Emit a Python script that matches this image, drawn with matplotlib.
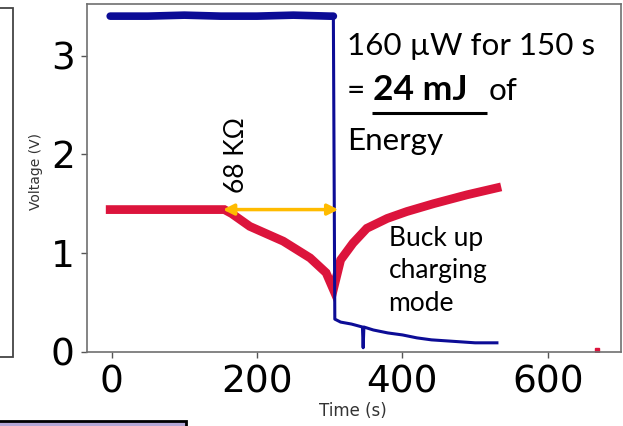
import matplotlib
matplotlib.use("Agg")
import matplotlib.pyplot as plt
from matplotlib.patches import Rectangle

# Supercapacitor voltage (blue) and storage-node voltage (red) over time
blue_t = [-2, 50, 100, 150, 200, 250, 300, 305, 307, 315, 330, 345, 346, 347,
          360, 380, 400, 420, 440, 460, 480, 500, 530]
blue_v = [3.40, 3.40, 3.41, 3.40, 3.40, 3.41, 3.40, 3.40, 0.33, 0.30, 0.28, 0.25,
          0.04, 0.25, 0.22, 0.19, 0.17, 0.14, 0.12, 0.11, 0.10, 0.09, 0.09]

red_t = [-2, 50, 100, 155, 165, 190, 236, 273, 295, 305, 315, 332, 351, 379,
         406, 443, 489, 530]
red_v = [1.44, 1.44, 1.44, 1.44, 1.40, 1.27, 1.12, 0.95, 0.80, 0.63, 0.93, 1.10,
         1.25, 1.35, 1.42, 1.50, 1.59, 1.66]

red_dot_t = [668]
red_dot_v = [0.02]

# Discharge window through the 68 kOhm load
load_start, load_end, load_level = 153, 312, 1.44

x_ticks = [0, 200, 400, 600]
y_ticks = [0, 1, 2, 3]

W, H = 623, 426
fig = plt.figure(figsize=(W / 100, H / 100), dpi=100)
ax = fig.add_axes([87.3 / W, 1 - 351.7 / H, (620.5 - 87.3) / W, (351.7 - 4) / H])

BLUE = "#0c0c96"
RED = "#dc143c"
GOLD = "#ffbb00"
ANN_FONT = ["Lato", "DejaVu Sans"]

ax.plot(blue_t, blue_v, color=BLUE, lw=2.2, zorder=3)
ax.plot(blue_t[:8], blue_v[:8], color=BLUE, lw=5.5, solid_capstyle="round", zorder=3)
ax.plot(red_t, red_v, color=RED, lw=6.3, solid_joinstyle="miter", zorder=2)
ax.plot(red_dot_t, red_dot_v, "s", color=RED, ms=3, zorder=2)

ax.annotate("", xy=(load_end, load_level), xytext=(load_start, load_level),
            arrowprops=dict(arrowstyle="<|-|>", color=GOLD, lw=2.5,
                            mutation_scale=16, shrinkA=0, shrinkB=0), zorder=4)
ax.text(172, 1.99, "68 KΩ", rotation=90, ha="center", va="center",
        fontsize=19, family=ANN_FONT)

ax.text(324, 3.006, "160 µW for 150 s", fontsize=22.6, family=ANN_FONT,
        va="baseline", ha="left")
ax.text(324, 2.55, "= ", fontsize=22.6, family=ANN_FONT, va="baseline", ha="left")
ax.text(360, 2.55, "24 mJ", fontsize=25.5, family=ANN_FONT, weight="bold",
        va="baseline", ha="left")
ax.text(519, 2.55, "of", fontsize=22.6, family=ANN_FONT, va="baseline", ha="left")
ax.text(324, 2.04, "Energy", fontsize=22.6, family=ANN_FONT, va="baseline", ha="left")

ax.text(381, 0.82, "Buck up\ncharging\nmode", fontsize=19, family=ANN_FONT,
        va="center", ha="left", linespacing=1.38)

# underline under the bold energy figure
ax.plot([358, 516], [2.42, 2.42], color="black", lw=2.2, solid_capstyle="butt")

ax.set_xlim(-33.5, 700)
ax.set_ylim(0, 3.523)
ax.set_xticks(x_ticks)
ax.set_yticks(y_ticks)
ax.tick_params(labelsize=27, length=4, width=1, color="#555555", pad=5)
for s in ax.spines.values():
    s.set_color("#707070")
    s.set_linewidth(1.2)

ax.set_ylabel("Voltage (V)", fontsize=10, color="#333333")
ax.yaxis.set_label_coords(-0.083, 0.517)
ax.set_xlabel("Time (s)", fontsize=12, color="#333333")
ax.xaxis.set_label_coords(0.498, -0.145)

# neighbouring panel frame and caption box along the edges
fig.patches.append(Rectangle((-5 / W, 1 - 357 / H), 18 / W, 349 / H,
                             transform=fig.transFigure, fill=False,
                             edgecolor="#444444", lw=1.3))
fig.patches.append(Rectangle((-3 / W, 1 - 432 / H), 189 / W, 11 / H,
                             transform=fig.transFigure, facecolor="#b4a7d6",
                             edgecolor="black", lw=2))

fig.savefig("out.png", dpi=100)
